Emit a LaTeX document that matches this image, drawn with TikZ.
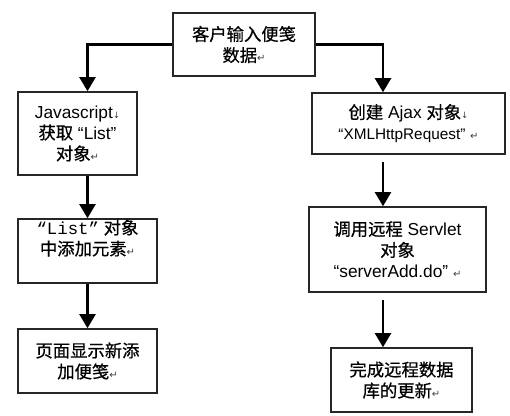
\documentclass[tikz,border=0pt]{standalone}
\usepackage{fontspec}
\setmainfont{Liberation Sans}
\newfontfamily\cjkfont[FakeBold=0.6]{Noto Sans CJK SC}
\newfontfamily\symfont{DejaVu Sans}
\newfontfamily\typefont{Liberation Mono}
\usetikzlibrary{arrows.meta,calc}
\newcommand\zh[1]{{\cjkfont #1}}
\newcommand\parmark{{\symfont\fontsize{7.5}{7.5}\selectfont\color{black!75}↵}}
\newcommand\brkmark{{\symfont\fontsize{6.5}{6.5}\selectfont\color{black!75}↓}}
\begin{document}
\begin{tikzpicture}[x=0.75pt,y=-0.75pt,
  box/.style={draw=black!85, line width=1.2pt, inner sep=0pt, align=center,
    font=\fontsize{13}{15.75}\selectfont},
  flow/.style={line width=1.6pt, -{Triangle[width=12pt,length=10.5pt]}}]
\fill[white] (0,0) rectangle (510,415);
\useasboundingbox (0,0) rectangle (510,415);
\node[box, minimum width=106.5pt, minimum height=47.25pt] (top) at (244,44.5)
  {\zh{客户输入便笺}\\\zh{数据}\parmark};
\node[box, minimum width=89.25pt, minimum height=62.25pt] (L1) at (77.5,133.5)
  {Javascript\brkmark\\\zh{获取} “List”\\\zh{对象}\parmark};
\node[box, minimum width=144.75pt, minimum height=45.75pt] (R1) at (408.5,123.5)
  {\zh{创建} Ajax \zh{对象}\brkmark\\{\fontsize{11.5}{15.75}\selectfont “XMLHttpRequest”} \parmark};
\node[box, minimum width=104.25pt, minimum height=48pt] (L2) at (87.5,251)
  {{\typefont “List”} \zh{对象}\\\zh{中添加元素}\parmark\\\strut};
\node[box, minimum width=104.25pt, minimum height=48pt] (L3) at (87.5,361)
  {\zh{页面显示新添}\\\zh{加便笺}\parmark};
\node[box, minimum width=132.75pt, minimum height=63.75pt] (R2) at (397.5,249.5)
  {\zh{调用远程} Servlet\\\zh{对象}\\“serverAdd.do” \parmark};
\node[box, minimum width=105.75pt, minimum height=48pt] (R3) at (401.5,380)
  {\zh{完成远程数据}\\\zh{库的更新}\parmark};
\coordinate (rx) at (383,0);
\draw[flow] (top.west) -| (L2.center |- L1.north);
\draw[flow] (L1.south -| L2.center) -- (L2.north);
\draw[flow] (L2.south) -- (L3.north);
\draw[flow] (top.east) -| (rx |- R1.north);
\draw[flow, shorten <=5.25pt] (rx |- R1.south) -- (rx |- R2.north);
\draw[flow, shorten <=5.25pt] (rx |- R2.south) -- (rx |- R3.north);
\end{tikzpicture}
\end{document}
